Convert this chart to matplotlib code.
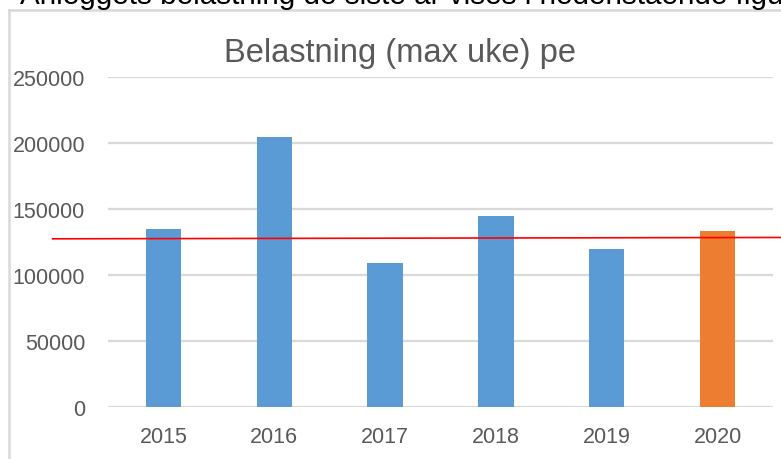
import matplotlib
matplotlib.use('Agg')
import matplotlib.pyplot as plt
from matplotlib.lines import Line2D

# data
years = ['2015', '2016', '2017', '2018', '2019', '2020']
belastning = [135000, 204500, 109000, 144500, 119800, 133500]
bar_colors = ['#5B9BD5', '#5B9BD5', '#5B9BD5', '#5B9BD5', '#5B9BD5', '#ED7D31']
ref_level = [127300, 128400]   # red reference line, left end / right end
yticks = [0, 50000, 100000, 150000, 200000, 250000]

plt.rcParams['font.family'] = ['Liberation Sans', 'DejaVu Sans']

W, H = 781, 460
fig = plt.figure(figsize=(W / 100, H / 100), dpi=100)

# chart frame (only top and left edges visible in the crop)
fig.add_artist(Line2D([9 / W, 9 / W], [0, 1 - 11 / H], color='#d9d9d9', lw=1.8))
fig.add_artist(Line2D([9 / W, 1], [1 - 11 / H, 1 - 11 / H], color='#d9d9d9', lw=1.8))

# cut-off document text above the chart
fig.text(20 / W, 1 - 4 / H, 'Anleggets belastning de siste år vises i nedenstående figur',
         fontsize=21.3, color='black', va='baseline', ha='left')

ax = fig.add_axes([108 / W, 52 / H, (773 - 108) / W, (408 - 77.7) / H])
x = list(range(len(years)))
ax.bar(x, belastning, width=0.32, color=bar_colors, zorder=3)

ax.set_ylim(0, 250000)
ax.set_xlim(-0.5, 5.5)
ax.set_yticks(yticks)
ax.set_yticklabels([str(v) for v in yticks])
ax.set_xticks(x)
ax.set_xticklabels(years)
ax.grid(axis='y', color='#d9d9d9', lw=1.6, zorder=0)
ax.tick_params(length=0, labelsize=15.5, colors='#595959')
ax.tick_params(axis='y', pad=16.5)
ax.tick_params(axis='x', pad=14)
for s in ax.spines.values():
    s.set_visible(False)

# red reference line, running past the plot area
ax.plot([-1.0, 6.07], ref_level, color='red', lw=1.2, zorder=4, clip_on=False)

fig.text(400 / W, 1 - 62 / H, 'Belastning (max uke) pe', fontsize=23.5, color='#595959',
         ha='center', va='baseline')

fig.savefig('out.png', dpi=100)
